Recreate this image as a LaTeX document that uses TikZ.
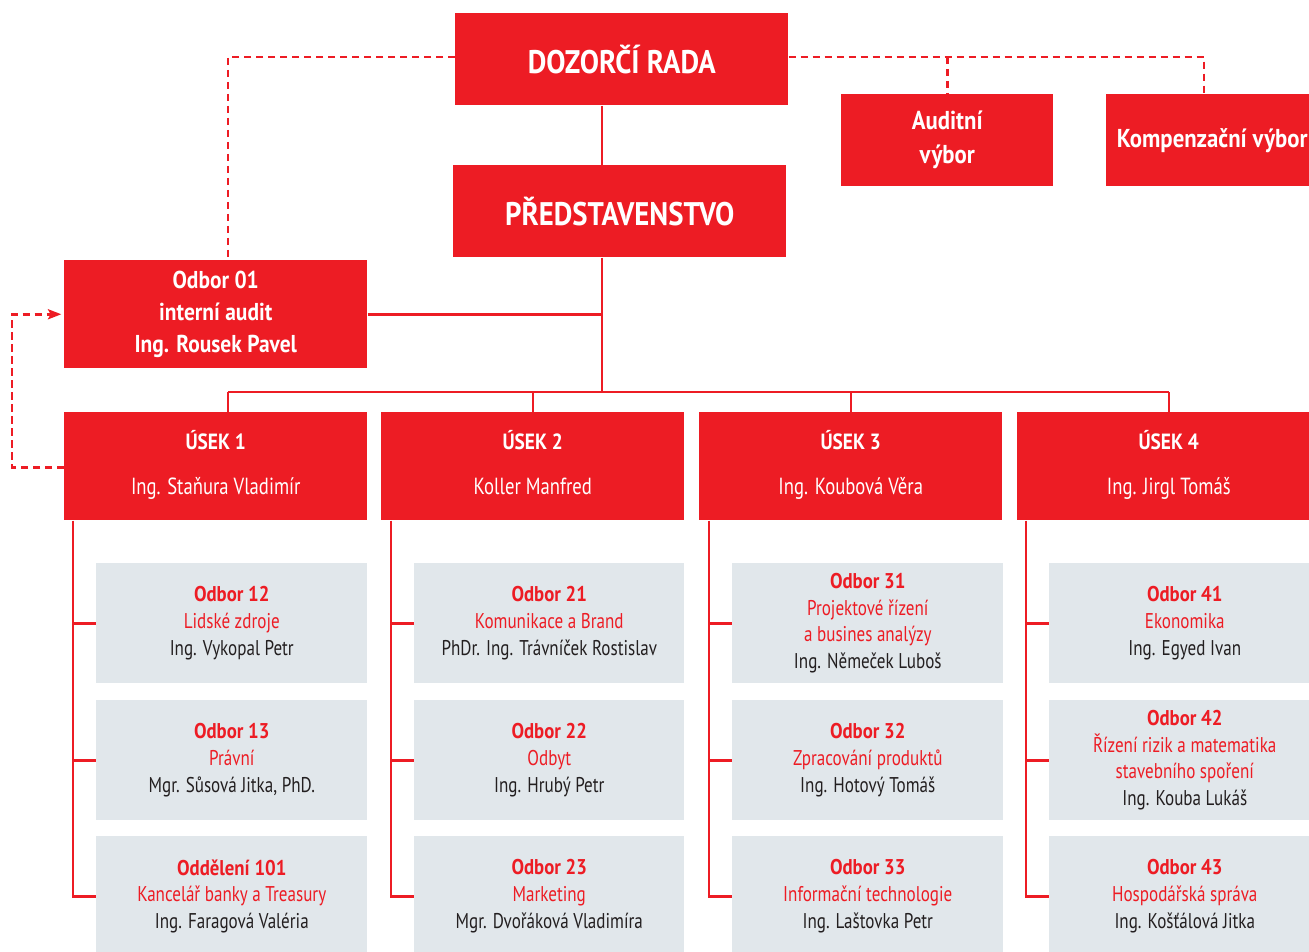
\documentclass[tikz,border=0pt]{standalone}
\usepackage{fontspec}
\setmainfont{PT Sans}[FakeStretch=0.8, BoldFeatures={FakeStretch=0.88}]
\usetikzlibrary{arrows.meta}
\definecolor{cred}{HTML}{ED1C24}
\definecolor{cgray}{HTML}{E1E7EB}
\definecolor{cdark}{HTML}{231F20}
\newcommand\placebox[7]{\node[#2, anchor=north west, minimum width={(#5-#3)*0.75pt}, minimum height={(#6-#4)*0.75pt}] (#1) at (#3,#4) {#7};}
\newcommand\sub[3]{{\bfseries\color{cred}#1}\\{\color{cred}#2}\\{\color{cdark}#3}}
\newcommand\usk[2]{{\bfseries\fontsize{16.5}{20}\selectfont #1}\strut\\[14pt]#2\strut}
\tikzset{
  redbox/.style={fill=cred, text=white, font=\bfseries, inner sep=0pt, align=center},
  bigtext/.style={font=\bfseries\fontsize{24.5}{30}\selectfont},
  usekbox/.style={redbox, font=\fontsize{17.5}{20}\selectfont},
  graybox/.style={fill=cgray, inner sep=0pt, align=center, font=\fontsize{16}{20}\selectfont},
  solidline/.style={draw=cred, line width=1.9pt},
  dashline/.style={draw=cred, line width=2.1pt, dash pattern=on 5.5pt off 3.5pt},
}
\begin{document}
\begin{tikzpicture}[x=0.75pt,y=-0.75pt]
\clip (0,0) rectangle (1309,952);
\fill[white] (0,0) rectangle (1309,952);
% top boxes
\placebox{dr}{redbox,bigtext}{455}{13}{788}{105}{DOZORČÍ RADA}
\placebox{pr}{redbox,bigtext}{453}{165}{786}{257}{PŘEDSTAVENSTVO}
\placebox{av}{redbox,font=\bfseries\fontsize{19.4}{25.5}\selectfont}{841}{94}{1053}{186}{Auditní\\výbor}
\placebox{kv}{redbox,font=\bfseries\fontsize{19.4}{25.5}\selectfont}{1106}{94}{1318}{186}{Kompenzační výbor}
\placebox{o1}{redbox,font=\bfseries\fontsize{18.3}{24}\selectfont}{64}{260}{367}{368}{Odbor 01\\interní audit\\Ing. Rousek Pavel}
% useky
\placebox{u1}{usekbox}{64}{412}{367}{520}{\usk{ÚSEK 1}{Ing. Staňura Vladimír}}
\placebox{u2}{usekbox}{381}{412}{684}{520}{\usk{ÚSEK 2}{Koller Manfred}}
\placebox{u3}{usekbox}{699}{412}{1002}{520}{\usk{ÚSEK 3}{Ing. Koubová Věra}}
\placebox{u4}{usekbox}{1017}{412}{1320}{520}{\usk{ÚSEK 4}{Ing. Jirgl Tomáš}}
% column 1
\placebox{g12}{graybox}{96}{563}{367}{683}{\sub{Odbor 12}{Lidské zdroje}{Ing. Vykopal Petr}}
\placebox{g13}{graybox}{96}{700}{367}{820}{\sub{Odbor 13}{Právní}{Mgr. Sůsová Jitka, PhD.}}
\placebox{g101}{graybox}{96}{836}{367}{956}{\sub{Oddělení 101}{Kancelář banky a Treasury}{Ing. Faragová Valéria}}
% column 2
\placebox{g21}{graybox}{414}{563}{684}{683}{\sub{Odbor 21}{Komunikace a Brand}{PhDr. Ing. Trávníček Rostislav}}
\placebox{g22}{graybox}{414}{700}{684}{820}{\sub{Odbor 22}{Odbyt}{Ing. Hrubý Petr}}
\placebox{g23}{graybox}{414}{836}{684}{956}{\sub{Odbor 23}{Marketing}{Mgr. Dvořáková Vladimíra}}
% column 3
\placebox{g31}{graybox}{732}{563}{1003}{683}{{\bfseries\color{cred}Odbor 31}\\{\color{cred}Projektové řízení}\\{\color{cred}a busines analýzy}\\{\color{cdark}Ing. Němeček Luboš}}
\placebox{g32}{graybox}{732}{700}{1003}{820}{\sub{Odbor 32}{Zpracování produktů}{Ing. Hotový Tomáš}}
\placebox{g33}{graybox}{732}{836}{1003}{956}{\sub{Odbor 33}{Informační technologie}{Ing. Laštovka Petr}}
% column 4
\placebox{g41}{graybox}{1049}{563}{1320}{683}{\sub{Odbor 41}{Ekonomika}{Ing. Egyed Ivan}}
\placebox{g42}{graybox}{1049}{700}{1320}{820}{{\bfseries\color{cred}Odbor 42}\\{\color{cred}Řízení rizik a matematika}\\{\color{cred}stavebního spoření}\\{\color{cdark}Ing. Kouba Lukáš}}
\placebox{g43}{graybox}{1049}{836}{1320}{956}{\sub{Odbor 43}{Hospodářská správa}{Ing. Košťálová Jitka}}
% coordinates
\coordinate (trunk) at (602,392);
\coordinate (dl) at (228,57);
\coordinate (dr2) at (1204,57);
\coordinate (d1) at (228,392);
\coordinate (d2) at (533,392);
\coordinate (d3) at (851,392);
\coordinate (d4) at (1169,392);
\coordinate (s1) at (73,0);
\coordinate (s2) at (391,0);
\coordinate (s3) at (709,0);
\coordinate (s4) at (1026,0);
\coordinate (lp) at (12,0);
% solid connectors
\draw[solidline] (dr.south -| trunk) -- (pr.north -| trunk);
\draw[solidline] (pr.south -| trunk) -- (trunk);
\draw[solidline] (o1.east) -- (o1.east -| trunk);
\draw[solidline] (d1) -- (d4);
\draw[solidline] (d1) -- (u1.north -| d1);
\draw[solidline] (d2) -- (u2.north -| d2);
\draw[solidline] (d3) -- (u3.north -| d3);
\draw[solidline] (d4) -- (u4.north -| d4);
% columns
\draw[solidline] (u1.south -| s1) -- (g101.west -| s1) -- (g101.west);
\draw[solidline] (g12.west -| s1) -- (g12.west);
\draw[solidline] (g13.west -| s1) -- (g13.west);
\draw[solidline] (u2.south -| s2) -- (g23.west -| s2) -- (g23.west);
\draw[solidline] (g21.west -| s2) -- (g21.west);
\draw[solidline] (g22.west -| s2) -- (g22.west);
\draw[solidline] (u3.south -| s3) -- (g33.west -| s3) -- (g33.west);
\draw[solidline] (g31.west -| s3) -- (g31.west);
\draw[solidline] (g32.west -| s3) -- (g32.west);
\draw[solidline] (u4.south -| s4) -- (g43.west -| s4) -- (g43.west);
\draw[solidline] (g41.west -| s4) -- (g41.west);
\draw[solidline] (g42.west -| s4) -- (g42.west);
% dashed connectors
\draw[dashline] (dr.west |- dl) -- (dl) -- (o1.north -| dl);
\draw[dashline] (dr.east |- dr2) -- (dr2) -- (kv.north -| dr2);
\draw[dashline] (av.north |- dl) -- (av.north);
\draw[dashline, -{Stealth[length=10pt,width=7.5pt,inset=2pt]}] ([yshift=-1pt]u1.west) -- ([yshift=-1pt]u1.west -| lp) -- (o1.west -| lp) -- ([xshift=-2pt]o1.west);
\end{tikzpicture}
\end{document}
